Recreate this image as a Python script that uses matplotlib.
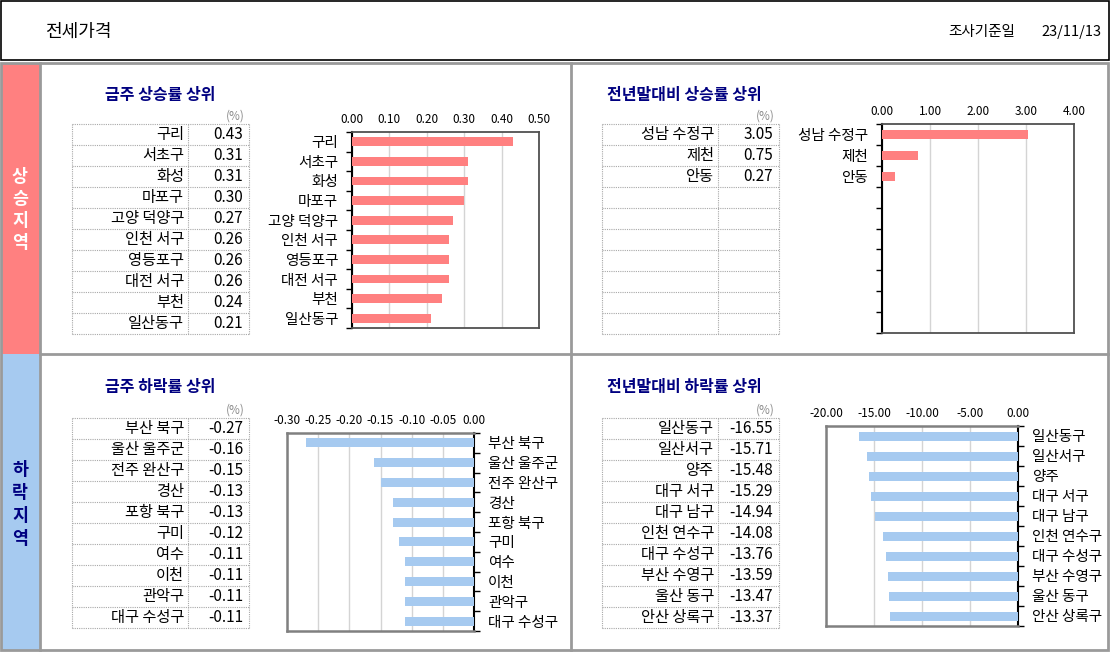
import matplotlib
matplotlib.use('Agg')
import matplotlib.pyplot as plt
from matplotlib.patches import Rectangle
import numpy as np

plt.rcParams['font.family'] = ['Noto Sans CJK KR', 'DejaVu Sans']
plt.rcParams['axes.unicode_minus'] = False

W, H = 1110, 652

# ---- 데이터 ----
week_up_names = ['구리', '서초구', '화성', '마포구', '고양 덕양구', '인천 서구', '영등포구', '대전 서구', '부천', '일산동구']
week_up_vals = [0.43, 0.31, 0.31, 0.30, 0.27, 0.26, 0.26, 0.26, 0.24, 0.21]

year_up_names = ['성남 수정구', '제천', '안동']
year_up_vals = [3.05, 0.75, 0.27]

week_down_names = ['부산 북구', '울산 울주군', '전주 완산구', '경산', '포항 북구', '구미', '여수', '이천', '관악구', '대구 수성구']
week_down_vals = [-0.27, -0.16, -0.15, -0.13, -0.13, -0.12, -0.11, -0.11, -0.11, -0.11]

year_down_names = ['일산동구', '일산서구', '양주', '대구 서구', '대구 남구', '인천 연수구', '대구 수성구', '부산 수영구', '울산 동구', '안산 상록구']
year_down_vals = [-16.55, -15.71, -15.48, -15.29, -14.94, -14.08, -13.76, -13.59, -13.47, -13.37]

week_up_ticks = [0.0, 0.1, 0.2, 0.3, 0.4, 0.5]
year_up_ticks = [0.0, 1.0, 2.0, 3.0, 4.0]
week_down_ticks = [-0.30, -0.25, -0.20, -0.15, -0.10, -0.05, 0.0]
year_down_ticks = [-20.0, -15.0, -10.0, -5.0, 0.0]

PINK = '#FF8080'
BLUE = '#A6CAF0'
NAVY = '#000080'
GREY = '#9A9A9A'

fig = plt.figure(figsize=(W / 100, H / 100), dpi=100)
bg = fig.add_axes([0, 0, 1, 1])
bg.set_xlim(0, W)
bg.set_ylim(H, 0)
bg.axis('off')

# 헤더
bg.add_patch(Rectangle((0.5, 0.5), W - 2, 59, fill=False, ec='black', lw=1.2))
bg.text(45, 32, '전세가격', fontsize=13, va='center', ha='left')
bg.text(948, 32, '조사기준일', fontsize=10.5, va='center', ha='left')
bg.text(1101, 32, '23/11/13', fontsize=10.5, va='center', ha='right')

# 좌측 구분 띠
bg.add_patch(Rectangle((1, 64), 39, 290, color=PINK, lw=0))
bg.add_patch(Rectangle((1, 354), 39, 296, color=BLUE, lw=0))
for i, ch in enumerate('상승지역'):
    bg.text(20, 177 + i * 22, ch, fontsize=12.5, fontweight='bold', color='white', ha='center', va='center')
for i, ch in enumerate('하락지역'):
    bg.text(20, 470 + i * 23, ch, fontsize=12.5, fontweight='bold', color=NAVY, ha='center', va='center')

# 패널 경계
bg.add_patch(Rectangle((1, 63), W - 3, 587, fill=False, ec=GREY, lw=2))
bg.plot([40, 40], [63, 650], color=GREY, lw=2)
bg.plot([571, 571], [63, 650], color=GREY, lw=2)
bg.plot([40, W - 2], [354, 354], color=GREY, lw=2)


def draw_table(x0, x1, xdiv, y0, y1, names, vals, fmt):
    n = 10
    rh = (y1 - y0) / n
    for i in range(n + 1):
        bg.plot([x0, x1], [y0 + i * rh] * 2, ls=(0, (1, 1)), color='#A8A8A8', lw=0.8)
    for xx in (x0, xdiv, x1):
        bg.plot([xx, xx], [y0, y1], ls=(0, (1, 1)), color='#A8A8A8', lw=0.8)
    for i, (nm, v) in enumerate(zip(names, vals)):
        yc = y0 + (i + 0.5) * rh
        bg.text(xdiv - 4, yc, nm, fontsize=11, ha='right', va='center')
        bg.text(x1 - 6, yc, fmt.format(v), fontsize=11, ha='right', va='center')
    bg.text(x1 - 14, y0 - 8, '(%)', fontsize=8.5, color='#8C8C8C', ha='center', va='center')


def add_px_axes(left, top, right, bottom):
    return fig.add_axes([left / W, 1 - bottom / H, (right - left) / W, (bottom - top) / H])


def draw_chart(ax, names, vals, ticks, color, side):
    n = 10
    pos = np.arange(len(vals))
    ax.barh(pos, vals, height=0.45, color=color, zorder=3)
    ax.set_ylim(n - 0.5, -0.5)
    ax.set_xlim(ticks[0], ticks[-1])
    ax.set_xticks(ticks)
    ax.set_xticklabels(['{:.2f}'.format(t) for t in ticks], fontsize=8.5)
    ax.xaxis.tick_top()
    ax.tick_params(axis='x', length=0, pad=4)
    ax.grid(axis='x', color='#D4D4D4', lw=1, zorder=0)
    labels = list(names) + [''] * (n - len(names))
    ax.set_yticks(np.arange(n))
    ax.set_yticklabels(labels, fontsize=10.5)
    ax.set_yticks(np.arange(n + 1) - 0.5, minor=True)
    ax.tick_params(axis='y', which='major', length=0, pad=10)
    ax.tick_params(axis='y', which='minor', length=4, width=1, direction='out')
    if side == 'right':
        ax.yaxis.tick_right()
        ax.yaxis.set_tick_params(which='both', left=False, right=True)
        for s in ('left', 'top', 'bottom'):
            ax.spines[s].set_color('#808080')
            ax.spines[s].set_linewidth(1.8)
        ax.spines['right'].set_color('black')
        ax.spines['right'].set_linewidth(1.5)
    else:
        for s in ('right', 'top', 'bottom'):
            ax.spines[s].set_color('#505050')
            ax.spines[s].set_linewidth(1.3)
        ax.spines['left'].set_color('black')
        ax.spines['left'].set_linewidth(1.5)


# 금주 상승률 상위
bg.text(105, 95, '금주 상승률 상위', fontsize=11.5, fontweight='bold', color=NAVY, va='center')
draw_table(72, 249, 188, 124, 334, week_up_names, week_up_vals, '{:.2f}')
ax1 = add_px_axes(352, 132, 539, 328)
draw_chart(ax1, week_up_names, week_up_vals, week_up_ticks, PINK, 'left')

# 전년말대비 상승률 상위
bg.text(607, 95, '전년말대비 상승률 상위', fontsize=11.5, fontweight='bold', color=NAVY, va='center')
draw_table(602, 779, 718, 124, 334, year_up_names, year_up_vals, '{:.2f}')
ax2 = add_px_axes(882, 124, 1074, 333)
draw_chart(ax2, year_up_names, year_up_vals, year_up_ticks, PINK, 'left')

# 금주 하락률 상위
bg.text(105, 387, '금주 하락률 상위', fontsize=11.5, fontweight='bold', color=NAVY, va='center')
draw_table(72, 249, 188, 418, 628, week_down_names, week_down_vals, '{:.2f}')
ax3 = add_px_axes(287, 433, 474, 631)
draw_chart(ax3, week_down_names, week_down_vals, week_down_ticks, BLUE, 'right')

# 전년말대비 하락률 상위
bg.text(607, 387, '전년말대비 하락률 상위', fontsize=11.5, fontweight='bold', color=NAVY, va='center')
draw_table(602, 779, 718, 418, 628, year_down_names, year_down_vals, '{:.2f}')
ax4 = add_px_axes(826, 426, 1018, 626)
draw_chart(ax4, year_down_names, year_down_vals, year_down_ticks, BLUE, 'right')

fig.savefig('out.png', dpi=100)
